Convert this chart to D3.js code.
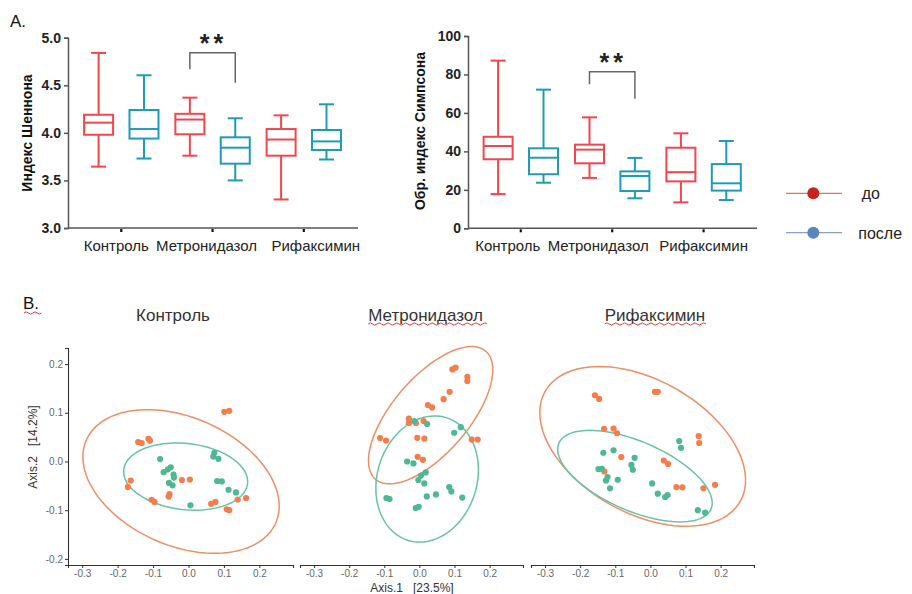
<!doctype html>
<html>
<head>
<meta charset="utf-8">
<script src="https://d3js.org/d3.v7.min.js"></script>
<style>
  body { margin: 0; background: #fff; }
  svg { font-family: "Liberation Sans", Arial, sans-serif; }
</style>
</head>
<body>
<div class="chart"></div>
<script>
// ---- data ----
var groups = ["Контроль", "Метронидазол", "Рифаксимин"];
var seriesNames = ["до", "после"];

// box values: [min, q1, median, q3, max]
var shannonBefore = [[3.645, 3.98, 4.107, 4.19, 4.84], [3.76, 3.985, 4.14, 4.20, 4.37], [3.30, 3.76, 3.93, 4.04, 4.184]];
var shannonAfter  = [[3.73, 3.94, 4.04, 4.24, 4.605], [3.50, 3.676, 3.844, 3.953, 4.153], [3.72, 3.82, 3.91, 4.03, 4.30]];
var simpsonBefore = [[17.8, 35.9, 42.8, 47.6, 87.2], [26.2, 33.8, 40.9, 43.5, 57.7], [13.5, 24.4, 29.2, 41.9, 49.4]];
var simpsonAfter  = [[23.7, 28.1, 36.7, 41.6, 72.1], [15.6, 19.4, 27.2, 29.6, 36.6], [14.7, 19.6, 23.4, 33.4, 45.4]];
var shannonTicks = [3.0, 3.5, 4.0, 4.5, 5.0];
var simpsonTicks = [0, 20, 40, 60, 80, 100];

// PCoA points [axis1, axis2]
var controlBefore = [[0.101,0.102],[0.115,0.104],[-0.142,0.040],[-0.132,0.038],[-0.113,0.0465],[-0.109,0.043],
  [-0.163,-0.039],[-0.171,-0.0525],[-0.104,-0.0785],[-0.096,-0.083],[-0.0535,-0.067],[-0.056,-0.072],
  [-0.0186,-0.038],[0.004,-0.037],[0.064,-0.087],[0.076,-0.083],[0.108,-0.098],[0.115,-0.100],[0.139,-0.078],[0.1625,-0.075]];
var controlAfter = [[-0.080,0.005],[-0.070,-0.022],[-0.058,-0.016],[-0.050,-0.012],[-0.042,-0.027],[-0.041,-0.033],
  [-0.055,-0.044],[-0.045,-0.049],[0.0056,-0.090],[0.073,0.018],[0.070,0.010],[0.0845,0.0055],
  [0.081,-0.040],[0.094,-0.041],[0.113,-0.058],[0.134,-0.0635]];
var metroBefore = [[0.094,0.189],[0.103,0.193],[0.1365,0.174],[0.1365,0.165],[0.086,0.143],[0.069,0.128],
  [0.024,0.116],[0.036,0.111],[-0.030,0.088],[-0.030,0.079],[-0.010,0.079],[0.012,0.083],
  [-0.112,0.048],[-0.095,0.043],[-0.006,0.0486],[0.014,0.047],[0.149,0.045],[0.166,0.045],[-0.005,0.0096],[0.010,0.0035]];
var metroAfter = [[-0.0145,0.083],[0.022,0.077],[0.118,0.0705],[0.099,0.059],[-0.035,0.0],[-0.017,-0.004],
  [0.018,-0.0225],[0.0046,-0.029],[-0.003,-0.038],[0.014,-0.045],[0.085,-0.0525],[0.091,-0.0615],
  [0.047,-0.0676],[0.021,-0.0717],[0.122,-0.074],[-0.094,-0.075],[-0.085,-0.077],[-0.0105,-0.0955],[-0.002,-0.093]];
var rifaxBefore = [[-0.158,0.136],[-0.146,0.1285],[0.013,0.143],[0.021,0.143],[-0.132,0.067],[-0.105,0.0676],
  [-0.095,0.058],[0.1376,0.052],[0.139,0.038],[-0.083,0.009],[0.038,0.002],[0.050,-0.005],
  [-0.131,-0.0205],[0.074,-0.0525],[0.091,-0.053],[0.151,-0.055],[0.184,-0.048]];
var rifaxAfter = [[0.082,0.042],[0.087,0.028],[-0.134,0.018],[-0.105,0.023],[-0.045,0.0076],[-0.054,-0.007],
  [-0.050,-0.017],[-0.148,-0.0156],[-0.138,-0.015],[-0.122,-0.032],[-0.1265,-0.039],[-0.093,-0.0375],
  [-0.115,-0.055],[0.005,-0.045],[0.021,-0.066],[0.042,-0.073],[0.049,-0.069],[0.135,-0.100],[0.156,-0.105]];

// ellipses: centre, half width, half height (data units), phase in degrees
var ellControlBefore = {cx: -0.021, cy: -0.041, rx: 0.277, ry: 0.1475, phase: 110};
var ellControlAfter  = {cx: -0.008, cy: -0.031, rx: 0.175, ry: 0.069, phase: 98.5};
var ellMetroBefore   = {cx: 0.032, cy: 0.095, rx: 0.177, ry: 0.141, phase: 48.7};
var ellMetroAfter    = {cx: 0.022, cy: -0.036, rx: 0.146, ry: 0.1295, phase: 81.6};
var ellRifaxBefore   = {cx: -0.022, cy: 0.031, rx: 0.293, ry: 0.164, phase: 115};
var ellRifaxAfter    = {cx: -0.044, cy: -0.030, rx: 0.220, ry: 0.094, phase: 125.8};

var pcoaXTicks = [-0.3, -0.2, -0.1, 0.0, 0.1, 0.2];
var pcoaYTicks = [-0.2, -0.1, 0.0, 0.1, 0.2];

// ---- drawing ----
var red = "#f0474f", teal = "#1e9cb5";
var orange = "#f47d4b", green = "#4db892";
var orangeLine = "#ec8f66", greenLine = "#68c2a6";

var svg = d3.select(".chart").append("svg").attr("width", 912).attr("height", 594);

function squiggle(x1, x2, y) {
  var p = d3.path(), s = 2.2, up = true;
  p.moveTo(x1, y);
  for (var x = x1; x < x2; x += s * 2) {
    p.quadraticCurveTo(x + s, up ? y - 2.2 : y + 2.2, x + s * 2, y);
    up = !up;
  }
  svg.append("path").attr("d", p.toString()).attr("fill", "none")
     .attr("stroke", "#e03a3a").attr("stroke-width", 1);
}

function boxChart(cfg) {
  var g = svg.append("g");
  var x = d3.scalePoint().domain(groups).range(cfg.xr);
  var y = d3.scaleLinear().domain(cfg.domain).range(cfg.yr);

  var ya = g.append("g").attr("transform", "translate(" + cfg.axisX + ",0)")
    .call(d3.axisLeft(y).tickValues(cfg.ticks).tickSize(4).tickPadding(3).tickFormat(cfg.fmt));
  ya.select(".domain").attr("stroke", "#555").attr("stroke-width", 1.5);
  ya.selectAll(".tick line").attr("stroke", "#555").attr("stroke-width", 1.5);
  ya.selectAll("text").attr("font-size", 14).attr("font-weight", "bold").attr("fill", "#222")
    .attr("font-family", "Liberation Sans, Arial, sans-serif");

  g.append("line").attr("x1", cfg.axisX).attr("x2", cfg.axisEnd)
    .attr("y1", cfg.yr[0]).attr("y2", cfg.yr[0]).attr("stroke", "#555").attr("stroke-width", 1.5);
  g.selectAll(".xt").data(groups).enter().append("line")
    .attr("x1", function(d) { return x(d); }).attr("x2", function(d) { return x(d); })
    .attr("y1", cfg.yr[0] + 1).attr("y2", cfg.yr[0] + 4)
    .attr("stroke", "#111").attr("stroke-width", 2.2);
  g.selectAll(".xl").data(groups).enter().append("text")
    .attr("x", function(d, i) { return x(d) + cfg.labelDx[i]; })
    .attr("y", cfg.yr[0] + 23).attr("text-anchor", "middle")
    .attr("font-size", 15).attr("fill", "#222").text(function(d) { return d; });

  g.append("text").attr("transform", "translate(" + cfg.titleX + "," + cfg.titleY + ") rotate(-90)")
    .attr("text-anchor", "middle").attr("font-size", 14).attr("font-weight", "bold")
    .attr("fill", "#111").text(cfg.title);

  var series = [{v: cfg.before, c: red, off: -22.7}, {v: cfg.after, c: teal, off: 22.7}];
  var bw = 29, cw = 15;
  series.forEach(function(s) {
    var b = g.selectAll(null).data(s.v).enter().append("g")
      .attr("stroke", s.c).attr("stroke-width", 2).attr("fill", "none");
    function cx(d, i) { return x(groups[i]) + s.off; }
    b.append("line").attr("x1", cx).attr("x2", cx)
      .attr("y1", function(d) { return y(d[4]); }).attr("y2", function(d) { return y(d[3]); });
    b.append("line").attr("x1", cx).attr("x2", cx)
      .attr("y1", function(d) { return y(d[1]); }).attr("y2", function(d) { return y(d[0]); });
    b.append("line").attr("x1", function(d, i) { return cx(d, i) - cw / 2; })
      .attr("x2", function(d, i) { return cx(d, i) + cw / 2; })
      .attr("y1", function(d) { return y(d[4]); }).attr("y2", function(d) { return y(d[4]); });
    b.append("line").attr("x1", function(d, i) { return cx(d, i) - cw / 2; })
      .attr("x2", function(d, i) { return cx(d, i) + cw / 2; })
      .attr("y1", function(d) { return y(d[0]); }).attr("y2", function(d) { return y(d[0]); });
    b.append("rect").attr("x", function(d, i) { return cx(d, i) - bw / 2; }).attr("width", bw)
      .attr("y", function(d) { return y(d[3]); })
      .attr("height", function(d) { return y(d[1]) - y(d[3]); });
    b.append("line").attr("x1", function(d, i) { return cx(d, i) - bw / 2; })
      .attr("x2", function(d, i) { return cx(d, i) + bw / 2; })
      .attr("y1", function(d) { return y(d[2]); }).attr("y2", function(d) { return y(d[2]); });
  });

  // significance bracket for Метронидазол
  var gi = 1, bl = x(groups[gi]) - 22.7, br = x(groups[gi]) + 22.7;
  g.append("path").attr("fill", "none").attr("stroke", "#666").attr("stroke-width", 1.5)
    .attr("d", "M" + bl + "," + cfg.br[1] + "V" + cfg.br[0] + "H" + br + "V" + cfg.br[2]);
  g.append("text").attr("x", x(groups[gi]) + 1).attr("y", cfg.br[0] - 1).attr("text-anchor", "middle")
    .attr("font-size", 25).attr("font-weight", "bold").attr("letter-spacing", 4).attr("fill", "#222")
    .text("**");
}

boxChart({
  before: shannonBefore, after: shannonAfter, domain: [3, 5], ticks: shannonTicks,
  fmt: d3.format(".1f"), yr: [228, 37.7], xr: [121.3, 303.8], axisX: 68, axisEnd: 358,
  labelDx: [-5, -6, 12], title: "Индекс Шеннона", titleX: 32, titleY: 133,
  br: [52.7, 69.3, 82.7]
});
boxChart({
  before: simpsonBefore, after: simpsonAfter, domain: [0, 100], ticks: simpsonTicks,
  fmt: d3.format("d"), yr: [228.3, 36], xr: [520.8, 703.6], axisX: 468, axisEnd: 757,
  labelDx: [-13, -14, 0], title: "Обр. индекс Симпсона", titleX: 425, titleY: 131,
  br: [71.7, 84.3, 98.7]
});

svg.append("text").attr("x", 10).attr("y", 27).attr("font-size", 17).attr("fill", "#111").text("A.");

// legend
var legColors = [{line: "#e07272", dot: "#c9231f"}, {line: "#86a2c9", dot: "#5b86bb"}];
seriesNames.forEach(function(name, i) {
  var ly = 193.3 + i * 39.4;
  svg.append("line").attr("x1", 786).attr("x2", 842).attr("y1", ly).attr("y2", ly)
    .attr("stroke", legColors[i].line).attr("stroke-width", 1.2);
  svg.append("circle").attr("cx", 813.3).attr("cy", ly).attr("r", 6).attr("fill", legColors[i].dot);
  svg.append("text").attr("x", i === 0 ? 861.7 : 858.3).attr("y", ly + 6)
    .attr("font-size", 16).attr("fill", "#222").text(name);
});

// ---- PCoA panels ----
svg.append("text").attr("x", 23).attr("y", 309).attr("font-size", 17).attr("fill", "#111").text("B.");
squiggle(24, 41, 313);

var yP = d3.scaleLinear().domain([-0.2125, 0.233]).range([565, 348]);
var panels = [
  {title: groups[0], range: [68, 293], before: controlBefore, after: controlAfter,
   eb: ellControlBefore, ea: ellControlAfter, yAxis: true, sq: false, titleDx: -7.5},
  {title: groups[1], range: [300, 523], before: metroBefore, after: metroAfter,
   eb: ellMetroBefore, ea: ellMetroAfter, yAxis: false, sq: true, titleDx: 14},
  {title: groups[2], range: [531, 754], before: rifaxBefore, after: rifaxAfter,
   eb: ellRifaxBefore, ea: ellRifaxAfter, yAxis: false, sq: true, titleDx: 12.5}
];
function fmt1(v) { return v.toFixed(1); }

panels.forEach(function(p) {
  var xP = d3.scaleLinear().domain([-0.34, 0.295]).range(p.range);
  var g = svg.append("g");
  var xa = g.append("g").attr("transform", "translate(0,565)")
    .call(d3.axisBottom(xP).tickValues(pcoaXTicks).tickSize(3).tickPadding(2).tickFormat(fmt1));
  xa.select(".domain").attr("stroke", "#333").attr("stroke-width", 1.1);
  xa.selectAll(".tick line").attr("stroke", "#333");
  xa.selectAll("text").attr("font-size", 10).attr("fill", "#666")
    .attr("font-family", "Liberation Sans, Arial, sans-serif");
  if (p.yAxis) {
    var ya = g.append("g").attr("transform", "translate(" + p.range[0] + ",0)")
      .call(d3.axisLeft(yP).tickValues(pcoaYTicks).tickSize(3).tickPadding(2).tickFormat(fmt1));
    ya.select(".domain").attr("stroke", "#333").attr("stroke-width", 1.1);
    ya.selectAll(".tick line").attr("stroke", "#333");
    ya.selectAll("text").attr("font-size", 10).attr("fill", "#666")
      .attr("font-family", "Liberation Sans, Arial, sans-serif");
  }
  var mid = (p.range[0] + p.range[1]) / 2;
  var t = g.append("text").attr("x", mid + p.titleDx).attr("y", 320.7).attr("text-anchor", "middle")
    .attr("font-size", 17).attr("fill", "#333").text(p.title);
  if (p.sq) {
    var bb = t.node().getBBox();
    squiggle(bb.x, bb.x + bb.width, 324);
  }

  var line = d3.line().x(function(d) { return xP(d[0]); }).y(function(d) { return yP(d[1]); });
  function ellipse(e) {
    var pts = d3.range(0, 101).map(function(k) {
      var a = k / 100 * 2 * Math.PI;
      return [e.cx + e.rx * Math.cos(a), e.cy + e.ry * Math.cos(a - e.phase * Math.PI / 180)];
    });
    return line(pts);
  }
  g.append("path").attr("d", ellipse(p.eb)).attr("fill", "none").attr("stroke", orangeLine).attr("stroke-width", 1.5);
  g.append("path").attr("d", ellipse(p.ea)).attr("fill", "none").attr("stroke", greenLine).attr("stroke-width", 1.5);

  g.selectAll(null).data(p.before).enter().append("circle")
    .attr("cx", function(d) { return xP(d[0]); }).attr("cy", function(d) { return yP(d[1]); })
    .attr("r", 3.1).attr("fill", orange);
  g.selectAll(null).data(p.after).enter().append("circle")
    .attr("cx", function(d) { return xP(d[0]); }).attr("cy", function(d) { return yP(d[1]); })
    .attr("r", 3.1).attr("fill", green);
});

svg.append("text").attr("transform", "translate(37,447) rotate(-90)").attr("text-anchor", "middle")
  .attr("font-size", 12).attr("fill", "#333").attr("xml:space", "preserve").text("Axis.2   [14.2%]");
svg.append("text").attr("x", 412).attr("y", 592).attr("text-anchor", "middle")
  .attr("font-size", 12).attr("fill", "#333").attr("xml:space", "preserve").text("Axis.1   [23.5%]");
</script>
</body>
</html>
